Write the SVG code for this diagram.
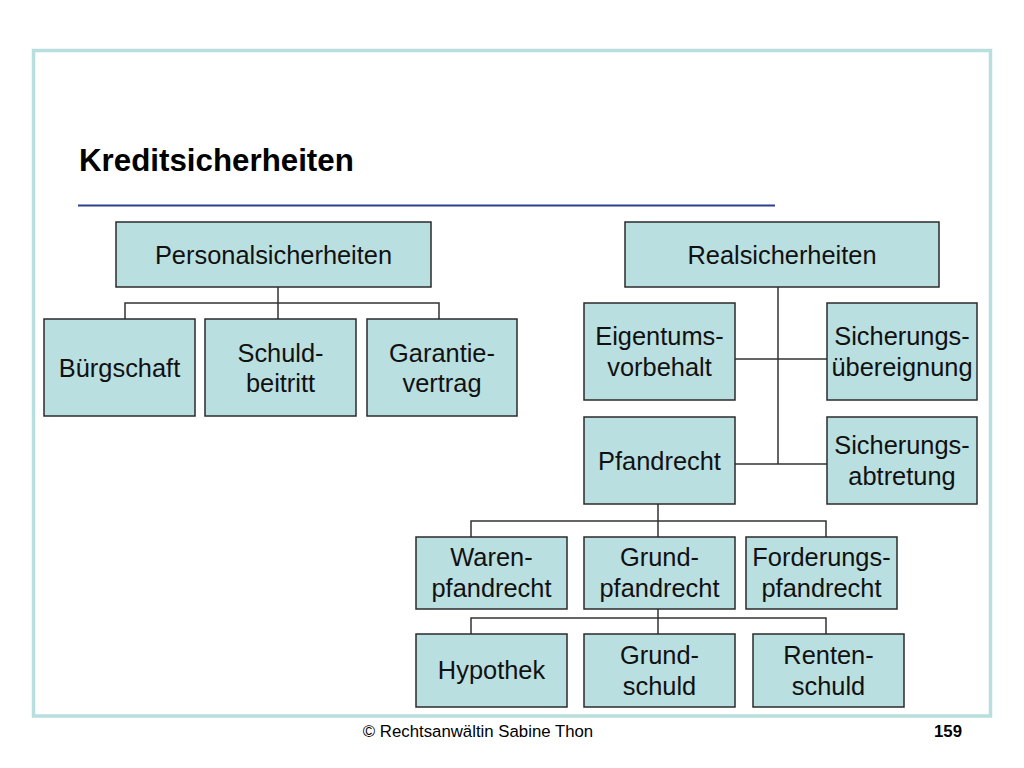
<svg xmlns="http://www.w3.org/2000/svg" width="1024" height="768" viewBox="0 0 1024 768">
<style>
  .box{fill:#badfe0;stroke:#2b2b2b;stroke-width:1.5}
  .lbl{font-family:"Liberation Sans",Arial,sans-serif;font-size:25.4px;fill:#111;text-anchor:middle}
  .con{stroke:#333;stroke-width:1.5;fill:none}
</style>
<rect x="0" y="0" width="1024" height="768" fill="#ffffff"/>
<rect x="33.5" y="50.5" width="957" height="665.5" fill="none" stroke="#b8dedd" stroke-width="3.5"/>
<text x="79" y="171" font-family="Liberation Sans,Arial,sans-serif" font-size="31.3px" font-weight="bold" fill="#000">Kreditsicherheiten</text>
<line x1="78" y1="205.5" x2="775" y2="205.5" stroke="#2e3f8f" stroke-width="2"/>

<g id="connectors">
  <path class="con" d="M278,287 V319 M125,319 V303 H439 V319"/>
  <path class="con" d="M778,287 V464 M735,359 H827 M735,464 H827"/>
  <path class="con" d="M658,504 V537 M471,537 V521 H826 V537"/>
  <path class="con" d="M658,609 V634 M471,634 V618 H826 V634"/>
</g>

<g id="personalsicherheiten"><rect class="box" x="116" y="222" width="315" height="65"/><text class="lbl" x="273.5" y="264">Personalsicherheiten</text></g>
<g id="buergschaft"><rect class="box" x="44" y="319" width="151" height="97"/><text class="lbl" x="119.5" y="377">Bürgschaft</text></g>
<g id="schuldbeitritt"><rect class="box" x="205" y="319" width="151" height="97"/><text class="lbl" x="280.5" y="362">Schuld-</text><text class="lbl" x="280.5" y="392">beitritt</text></g>
<g id="garantievertrag"><rect class="box" x="367" y="319" width="150" height="97"/><text class="lbl" x="442" y="362">Garantie-</text><text class="lbl" x="442" y="392">vertrag</text></g>

<g id="realsicherheiten"><rect class="box" x="625" y="222" width="314" height="65"/><text class="lbl" x="782" y="264">Realsicherheiten</text></g>
<g id="eigentumsvorbehalt"><rect class="box" x="584" y="303" width="151" height="97"/><text class="lbl" x="659.5" y="345">Eigentums-</text><text class="lbl" x="659.5" y="376">vorbehalt</text></g>
<g id="sicherungsuebereignung"><rect class="box" x="827" y="303" width="150" height="97"/><text class="lbl" x="902" y="345">Sicherungs-</text><text class="lbl" x="902" y="376">übereignung</text></g>
<g id="pfandrecht"><rect class="box" x="584" y="417" width="151" height="87"/><text class="lbl" x="659.5" y="470">Pfandrecht</text></g>
<g id="sicherungsabtretung"><rect class="box" x="827" y="417" width="150" height="87"/><text class="lbl" x="902" y="454">Sicherungs-</text><text class="lbl" x="902" y="485">abtretung</text></g>

<g id="warenpfandrecht"><rect class="box" x="416" y="537" width="151" height="72"/><text class="lbl" x="491.5" y="566">Waren-</text><text class="lbl" x="491.5" y="597">pfandrecht</text></g>
<g id="grundpfandrecht"><rect class="box" x="584" y="537" width="151" height="72"/><text class="lbl" x="659.5" y="566">Grund-</text><text class="lbl" x="659.5" y="597">pfandrecht</text></g>
<g id="forderungspfandrecht"><rect class="box" x="746" y="537" width="151" height="72"/><text class="lbl" x="821.5" y="566">Forderungs-</text><text class="lbl" x="821.5" y="597">pfandrecht</text></g>

<g id="hypothek"><rect class="box" x="416" y="634" width="151" height="73"/><text class="lbl" x="491.5" y="679">Hypothek</text></g>
<g id="grundschuld"><rect class="box" x="584" y="634" width="151" height="73"/><text class="lbl" x="659.5" y="664">Grund-</text><text class="lbl" x="659.5" y="695">schuld</text></g>
<g id="rentenschuld"><rect class="box" x="753" y="634" width="151" height="73"/><text class="lbl" x="828.5" y="664">Renten-</text><text class="lbl" x="828.5" y="695">schuld</text></g>

<text x="478" y="737" font-family="Liberation Sans,Arial,sans-serif" font-size="16.8px" fill="#000" text-anchor="middle">© Rechtsanwältin Sabine Thon</text>
<text x="962" y="737" font-family="Liberation Sans,Arial,sans-serif" font-size="16.8px" font-weight="bold" fill="#000" text-anchor="end">159</text>
</svg>
